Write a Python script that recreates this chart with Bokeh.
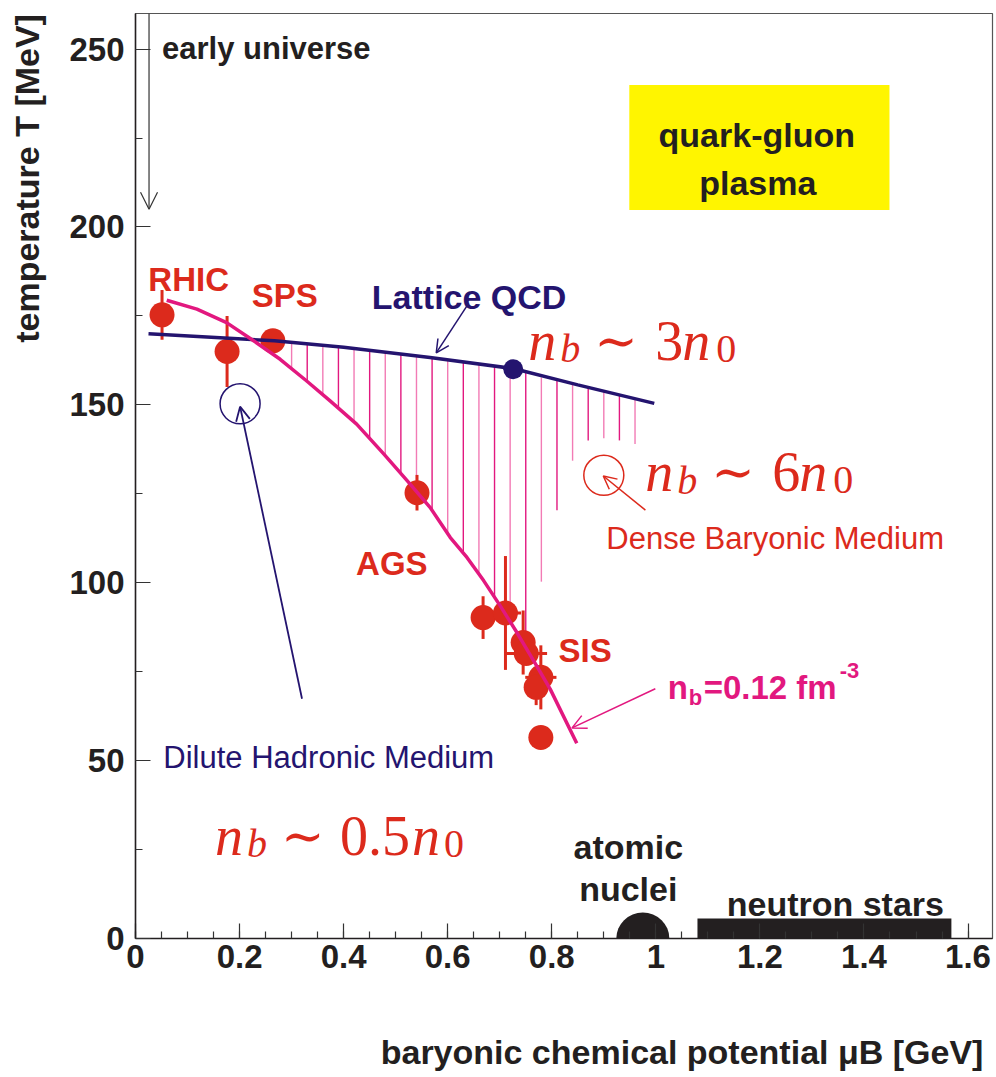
import numpy as np
from math import pi
from bokeh.plotting import figure
from bokeh.models import (Label, Arrow, OpenHead, Range1d, FixedTicker,
                          NumeralTickFormatter)
from bokeh.embed import file_html
from bokeh.resources import INLINE

# ---------------- data ----------------
# measured freeze-out points (mu_B [GeV], T [MeV])
mu_pts = [0.051, 0.176, 0.264, 0.541, 0.668, 0.711, 0.745, 0.751, 0.779, 0.770, 0.779]
T_pts = [175.3, 165.0, 168.0, 125.3, 90.2, 91.5, 83.2, 80.1, 73.4, 70.6, 56.5]
T_err = [7, 10, 0, 5, 6, 16, 9, 0, 9, 5, 0]
mu_err = [0, 0, 0, 0, 0, 0.03, 0, 0.04, 0.03, 0, 0]

# lattice QCD phase boundary
mu_lqcd = [0.025, 0.267, 0.4, 0.566, 0.726, 0.85, 0.997]
T_lqcd = [170.0, 168.0, 166.2, 163.3, 160.2, 155.6, 150.4]
mu_cep = [0.726]
T_cep = [160.0]

# n_b = 0.12 fm^-3 freeze-out curve
mu_fo = [0.060, 0.118, 0.175, 0.227, 0.278, 0.329, 0.374, 0.425, 0.477, 0.522,
         0.566, 0.605, 0.637, 0.669, 0.701, 0.733, 0.765, 0.797, 0.848]
T_fo = [179.4, 176.9, 173.1, 168.0, 162.8, 156.7, 151.1, 144.6, 136.2, 128.7,
        121.2, 112.7, 107.1, 100.6, 93.5, 86.0, 78.1, 70.1, 54.9]

# hatching between the curves
hatch_mu = [0.30, 0.33, 0.36, 0.39, 0.42, 0.45, 0.48, 0.51, 0.54, 0.57, 0.60, 0.63,
            0.66, 0.69, 0.72, 0.75, 0.78, 0.81, 0.84, 0.87, 0.90, 0.93, 0.96]
hatch_top = [167.6, 167.1, 166.7, 166.3, 165.9, 165.3, 164.8, 164.3, 163.8, 163.2,
             162.6, 162.1, 161.5, 160.9, 160.3, 159.1, 157.7, 156.9, 155.8, 154.9,
             153.7, 152.7, 151.6]
hatch_bot = [160.2, 156.6, 152.8, 149.1, 145.2, 140.6, 135.7, 130.7, 125.6, 120.3,
             113.8, 108.3, 102.4, 96.0, 89.0, 82.0, 100.3, 120.4, 134.3, 140.0,
             140.6, 140.0, 139.0]

# regions
nuclei_mu, nuclei_w, nuclei_h = [0.975], [0.102], [14.6]
stars_left, stars_right, stars_top = [1.08], [1.568], [5.6]
qgp_left, qgp_right, qgp_bottom, qgp_top = [0.949], [1.449], [204.8], [239.9]

x_ticks = [0, 0.2, 0.4, 0.6, 0.8, 1.0, 1.2, 1.4, 1.6]
x_minor = [round(0.05 * i, 2) for i in range(0, 34)]
y_ticks = [0, 50, 100, 150, 200, 250]
y_minor = [25 * i for i in range(0, 11)]

x_title = "baryonic chemical potential \u03bcB [GeV]"
y_title = "temperature T [MeV]"

# ---------------- colours ----------------
RED = "#dc2a1c"
MAG = "#e2187f"
PINK = "#f27bb5"
NAVY = "#24146f"
BLACK = "#231f20"
YELLOW = "#fff500"
SANS = "Liberation Sans"
SERIF = "Liberation Serif"

p = figure(width=996, height=1077, x_range=Range1d(0, 1.647), y_range=Range1d(0, 260),
           output_backend="svg", toolbar_location=None,
           min_border_left=135, min_border_right=4, min_border_top=13, min_border_bottom=139)
p.xgrid.visible = False
p.ygrid.visible = False
p.outline_line_color = "#555555"
p.outline_line_width = 1.2
p.background_fill_color = "white"
p.border_fill_color = "white"

for ax, ticks, minor in ((p.xaxis[0], x_ticks, x_minor), (p.yaxis[0], y_ticks, y_minor)):
    ax.ticker = FixedTicker(ticks=ticks, minor_ticks=minor)
    ax.formatter = NumeralTickFormatter(format="0.[0]")
    ax.major_tick_in = 15
    ax.major_tick_out = 0
    ax.minor_tick_in = 7
    ax.minor_tick_out = 0
    ax.axis_line_color = BLACK
    ax.axis_line_width = 1.5
    ax.major_tick_line_color = "#333333"
    ax.minor_tick_line_color = "#333333"
    ax.major_tick_line_width = 1.2
    ax.minor_tick_line_width = 1.2
    ax.major_label_text_font = SANS
    ax.major_label_text_font_style = "bold"
    ax.major_label_text_font_size = "33px"
    ax.major_label_text_color = BLACK
    ax.axis_label_text_font = SANS
    ax.axis_label_text_font_style = "bold"
    ax.axis_label_text_font_size = "34px"
    ax.axis_label_text_color = BLACK
p.xaxis.major_label_standoff = 6
p.yaxis.major_label_standoff = 11

# axis titles: centred labels shifted towards the far ends with leading no-break spaces
NBSP = "\u00a0"
p.xaxis[0].axis_label = NBSP * 25 + x_title
p.yaxis[0].axis_label = NBSP * 63 + y_title
p.xaxis.axis_label_standoff = 62
p.yaxis.axis_label_standoff = 20

# ---------------- regions ----------------
p.quad(left=qgp_left, right=qgp_right, bottom=qgp_bottom, top=qgp_top,
       fill_color=YELLOW, line_color=None)
p.quad(left=stars_left, right=stars_right, bottom=[0], top=stars_top,
       fill_color=BLACK, line_color=None)
p.ellipse(x=nuclei_mu, y=[0], width=nuclei_w, height=nuclei_h,
          fill_color=BLACK, line_color=None)

# ---------------- hatching ----------------
hcol = [MAG if i % 2 else PINK for i in range(len(hatch_mu))]
p.segment(x0=hatch_mu, y0=hatch_bot, x1=hatch_mu, y1=hatch_top,
          line_color=hcol, line_width=1.4)

# ---------------- data points ----------------
ve = [i for i, e in enumerate(T_err) if e > 0]
p.segment(x0=[mu_pts[i] for i in ve], x1=[mu_pts[i] for i in ve],
          y0=[T_pts[i] - T_err[i] for i in ve], y1=[T_pts[i] + T_err[i] for i in ve],
          line_color=RED, line_width=3)
he = [i for i, e in enumerate(mu_err) if e > 0]
p.segment(x0=[mu_pts[i] - mu_err[i] for i in he], x1=[mu_pts[i] + mu_err[i] for i in he],
          y0=[T_pts[i] for i in he], y1=[T_pts[i] for i in he],
          line_color=RED, line_width=3)
p.scatter(mu_pts, T_pts, size=25, fill_color=RED, line_color=None)

# ---------------- curves ----------------
p.line(mu_lqcd, T_lqcd, line_color=NAVY, line_width=3.5)
p.line(mu_fo, T_fo, line_color=MAG, line_width=3.5, line_join="round")
p.scatter(mu_cep, T_cep, size=20, fill_color=NAVY, line_color=None)

# open circles
p.scatter([0.201], [150.3], size=40, fill_color=None, line_color=NAVY, line_width=1.5)
p.scatter([0.900], [130.2], size=40, fill_color=None, line_color=RED, line_width=1.5)

# ---------------- arrows ----------------
def arrow(x0, y0, x1, y1, color, size=14, lw=1.5):
    p.add_layout(Arrow(end=OpenHead(size=size, line_color=color, line_width=lw),
                       x_start=x0, y_start=y0, x_end=x1, y_end=y1,
                       line_color=color, line_width=lw))

arrow(0.026, 260, 0.026, 205, "#333333", size=17, lw=1.2)
arrow(0.637, 177.8, 0.578, 164.6, NAVY, size=13, lw=1.5)
arrow(0.320, 67.4, 0.201, 149.5, NAVY, size=14, lw=1.8)
arrow(0.980, 120.4, 0.899, 130.0, RED, size=13, lw=1.5)
arrow(0.999, 70.2, 0.839, 59.2, MAG, size=14, lw=1.5)

# ---------------- labels ----------------
def lab(text, x, y, size, color, style="bold", font=SANS, align="left",
        baseline="alphabetic", xo=0, yo=0, angle=0.0):
    p.add_layout(Label(x=x, y=y, text=text, text_font=font, text_font_size=f"{size}px",
                       text_font_style=style, text_color=color, text_align=align,
                       text_baseline=baseline, x_offset=xo, y_offset=yo, angle=angle))

lab("early universe", 0.051, 250.3, 31, BLACK)
lab("quark-gluon", 1.194, 225.8, 34, BLACK, align="center")
lab("plasma", 1.196, 212.4, 34, BLACK, align="center")
lab("RHIC", 0.0246, 185.3, 33, RED)
lab("SPS", 0.2235, 180.6, 33, RED)
lab("Lattice QCD", 0.4542, 180.3, 34, NAVY)
lab("AGS", 0.424, 105.3, 33, RED)
lab("SIS", 0.813, 80.9, 33, RED)
lab("Dilute Hadronic Medium", 0.0535, 50.9, 31, NAVY, style="normal")
lab("Dense Baryonic Medium", 0.9048, 112.3, 31, RED, style="normal")
lab("atomic", 0.947, 25.6, 34, BLACK, align="center")
lab("nuclei", 0.947, 13.9, 34, BLACK, align="center")
lab("neutron stars", 1.345, 9.7, 34, BLACK, align="center")

# n_b = 0.12 fm^-3
lab("n", 1.0227, 70.6, 33, MAG)
lab("b", 1.0227, 70.6, 22, MAG, xo=21, yo=-10)
lab("=0.12 fm", 1.0227, 70.6, 33, MAG, xo=36)
lab("-3", 1.0227, 70.6, 22, MAG, xo=172, yo=17)

# n_b ~ k n_0 (math style)
def nb_label(x, y, mid, mid_dx, n_dx, z_dx):
    lab("n", x, y, 56, RED, style="italic", font=SERIF)
    lab("b", x, y, 40, RED, style="italic", font=SERIF, xo=32, yo=-8)
    lab("\u223c", x, y, 52, RED, style="normal", font="DejaVu Serif", xo=66)
    lab(mid, x, y, 56, RED, style="normal", font=SERIF, xo=mid_dx)
    lab("n", x, y, 56, RED, style="italic", font=SERIF, xo=n_dx)
    lab("0", x, y, 40, RED, style="normal", font=SERIF, xo=z_dx, yo=-8)

nb_label(0.7548, 168.0, "3", 127, 154, 188)
nb_label(0.9798, 131.0, "6", 127, 154, 188)
nb_label(0.1529, 28.9, "0.5", 125, 197, 229)

open("out.html", "w").write(file_html(p, INLINE))
